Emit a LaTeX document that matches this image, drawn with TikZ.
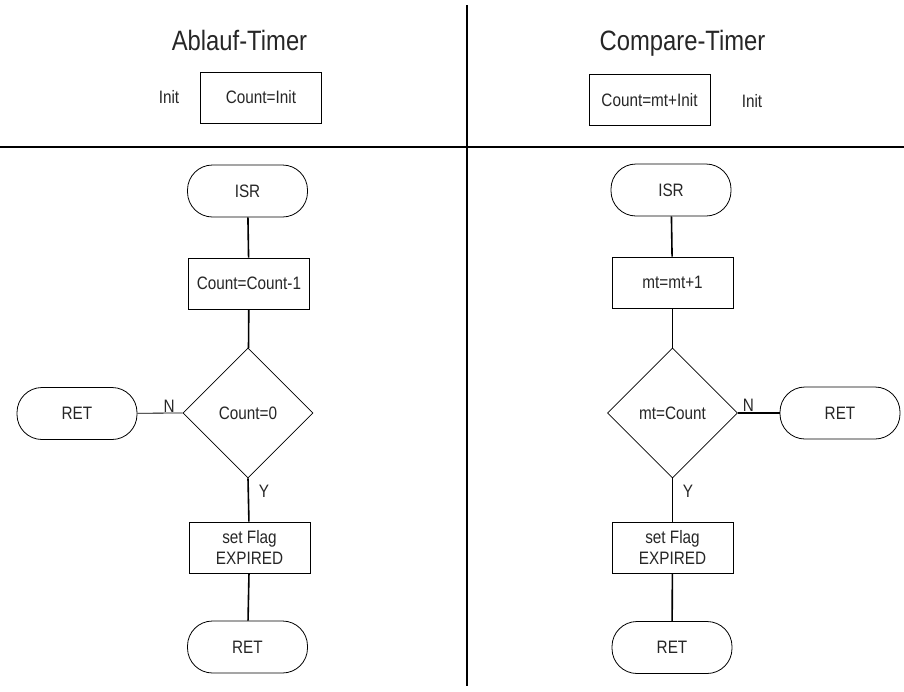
\documentclass[tikz,border=0pt]{standalone}
\usepackage{fontspec}
\setmainfont{Liberation Sans}[FakeStretch=0.85]
\usetikzlibrary{shapes.geometric}

\begin{document}
\begin{tikzpicture}[x=1pt, y=-1pt, line width=0.8pt,
    every node/.style={font=\fontsize{18}{21}\selectfont, text=black!85},
    titel/.style={font=\fontsize{28}{32}\selectfont, anchor=base},
    proc/.style={draw, minimum width=121pt, minimum height=51pt, align=center, inner sep=0pt},
    term/.style={draw, rounded corners=25pt, minimum width=120pt, minimum height=52pt, inner sep=0pt},
    entsch/.style={draw, diamond, minimum width=130pt, minimum height=130pt, inner sep=0pt},
    verb/.style={line width=1.6pt}]
    \useasboundingbox (0,0) rectangle (904,691);

    % 1. Trennlinien
    \draw[line width=1.5pt] (0,147) -- (904,147);
    \draw[line width=1.5pt] (467,5) -- (467,686);

    % 2. Ueberschriften und Initialisierung
    \node[titel] (tA) at (239.5,50) {Ablauf-Timer};
    \node[titel] (tC) at (682.5,50) {Compare-Timer};
    \node[anchor=base] (iA) at (169,103) {Init};
    \node[proc] (cA) at (261,97.5) {Count=Init};
    \node[proc] (cC) at (649.5,100) {Count=mt+Init};
    \node[anchor=base] (iC) at (752,107) {Init};

    % 3. Ablauf-Timer
    \node[term] (isrA) at (247.5,191) {ISR};
    \node[proc] (decA) at (249,283.5) {Count=Count-1};
    \node[entsch] (dA) at (248,413) {Count=0};
    \node[term] (retNA) at (77,413.5) {RET};
    \node[proc] (flagA) at (249.5,547.5) {set Flag\\EXPIRED};
    \node[term] (retA) at (247.5,647) {RET};
    \draw[verb] (isrA) -- (decA);
    \draw[verb] (decA) -- (dA);
    \draw[verb] (dA.south) -- (flagA);
    \draw[verb] (flagA) -- (retA);
    \draw (dA.west) -- (retNA) node[pos=0.3, anchor=south, inner sep=0.5pt] (nA) {N};
    \node (yA) at (264,491) {Y};

    % 4. Compare-Timer
    \node[term] (isrC) at (671,190) {ISR};
    \node[proc] (incC) at (672.5,282.5) {mt=mt+1};
    \node[entsch] (dC) at (672.5,413) {mt=Count};
    \node[term] (retNC) at (840,413) {RET};
    \node[proc] (flagC) at (672.5,547.5) {set Flag\\EXPIRED};
    \node[term] (retC) at (672,647.5) {RET};
    \draw[verb] (isrC) -- (incC);
    \draw[verb] (incC) -- (dC);
    \draw[verb] (dC.south) -- (flagC);
    \draw[verb] (flagC) -- (retC);
    \draw[verb] (dC.east) -- (retNC) node[pos=0.25, anchor=south, inner sep=0.5pt] (nC) {N};
    \node (yC) at (688,491) {Y};
\end{tikzpicture}
\end{document}
